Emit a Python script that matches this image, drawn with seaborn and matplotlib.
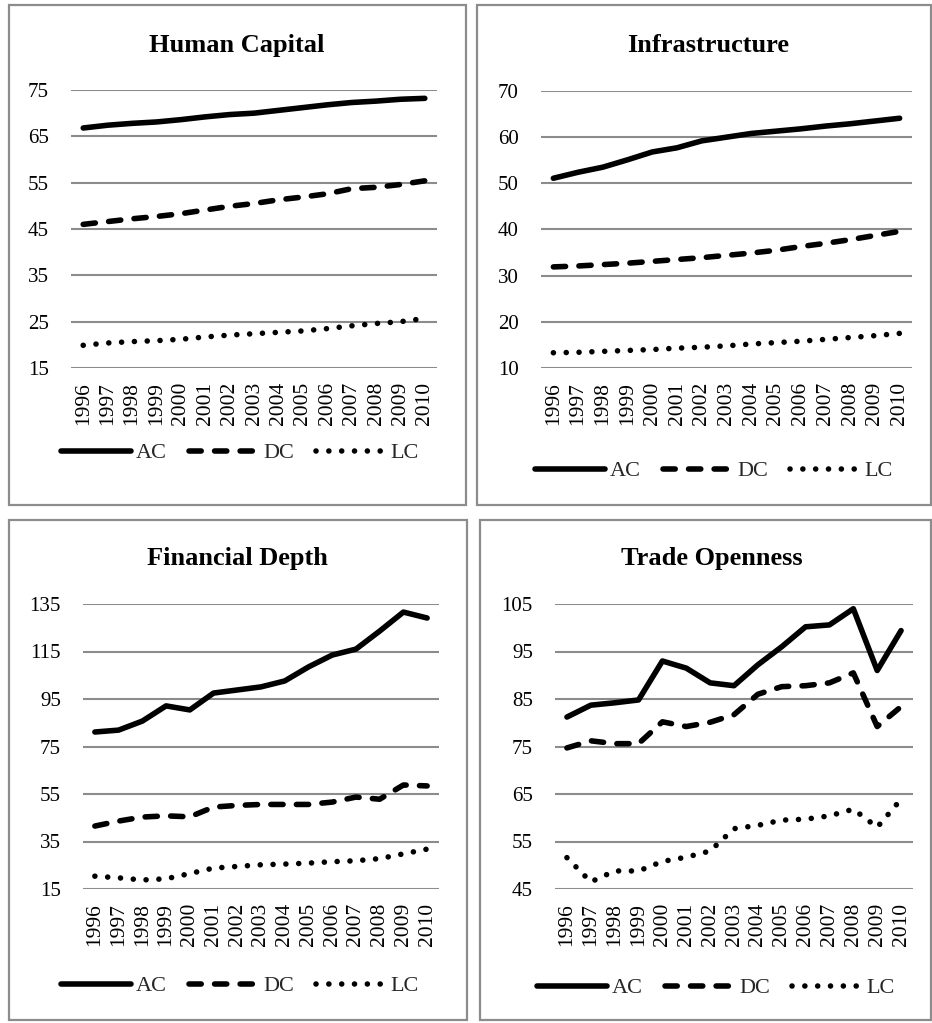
import seaborn as sns
import matplotlib
matplotlib.use("Agg")
import matplotlib.pyplot as plt
from matplotlib.patches import Rectangle
import pandas as pd

# values
years = list(range(1996, 2011))
groups = ["AC", "DC", "LC"]

hc_ac = [66.8, 67.4, 67.8, 68.1, 68.6, 69.2, 69.7, 70.0, 70.6, 71.2, 71.8, 72.3, 72.6, 73.0, 73.2]
hc_dc = [46.0, 46.6, 47.2, 47.7, 48.3, 49.1, 49.9, 50.5, 51.3, 51.9, 52.6, 53.7, 54.0, 54.6, 55.4]
hc_lc = [19.9, 20.4, 20.7, 20.9, 21.2, 21.7, 22.1, 22.4, 22.7, 23.0, 23.5, 24.1, 24.6, 25.0, 25.7]

inf_ac = [51.1, 52.4, 53.5, 55.1, 56.8, 57.7, 59.2, 60.0, 60.8, 61.3, 61.8, 62.4, 62.9, 63.5, 64.1]
inf_dc = [31.9, 32.1, 32.4, 32.7, 33.1, 33.5, 33.9, 34.4, 34.9, 35.5, 36.3, 37.0, 37.8, 38.7, 39.6]
inf_lc = [13.3, 13.4, 13.6, 13.8, 14.0, 14.3, 14.5, 14.8, 15.2, 15.5, 15.8, 16.2, 16.6, 17.0, 17.5]

fd_ac = [81.1, 81.9, 85.7, 92.1, 90.4, 97.5, 98.8, 100.1, 102.6, 108.5, 113.5, 116.0, 123.6, 131.6, 129.1]
fd_dc = [41.5, 43.6, 45.3, 45.8, 45.4, 49.5, 50.2, 50.6, 50.6, 50.6, 51.6, 53.7, 52.8, 58.8, 58.4]
fd_lc = [20.4, 19.7, 18.8, 19.3, 21.5, 23.8, 24.5, 25.2, 25.5, 25.9, 26.5, 26.9, 27.8, 29.8, 31.8]

to_ac = [81.2, 83.7, 84.2, 84.8, 93.0, 91.5, 88.4, 87.8, 92.2, 96.0, 100.2, 100.6, 104.0, 91.0, 99.4]
to_dc = [74.7, 76.2, 75.6, 75.6, 80.2, 79.2, 80.1, 81.7, 86.0, 87.6, 87.8, 88.4, 90.5, 79.2, 83.4]
to_lc = [51.6, 46.5, 48.8, 48.8, 50.8, 51.7, 53.0, 57.7, 58.4, 59.5, 59.7, 60.4, 61.8, 58.0, 63.9]

panels = [
    ("Human Capital", [hc_ac, hc_dc, hc_lc], [15, 25, 35, 45, 55, 65, 75]),
    ("Infrastructure", [inf_ac, inf_dc, inf_lc], [10, 20, 30, 40, 50, 60, 70]),
    ("Financial Depth", [fd_ac, fd_dc, fd_lc], [15, 35, 55, 75, 95, 115, 135]),
    ("Trade Openness", [to_ac, to_dc, to_lc], [45, 55, 65, 75, 85, 95, 105]),
]

W, H = 932, 1023

# layout in pixels: box (x0, y0, x1, y1), axes (left, top, right, bottom), title baseline, legend center
layout = [
    ((9, 5, 466, 505), (71, 90, 437, 368), (237, 52), (240, 453)),
    ((477, 5, 931, 505), (541, 91, 912, 368), (708, 52), (714, 471)),
    ((9, 520, 467, 1020), (83, 604, 439, 889), (237, 565), (240, 986)),
    ((480, 520, 931, 1020), (555, 604, 913, 889), (712, 565), (716, 988)),
]

sns.set_theme(style="white")
plt.rcParams["font.family"] = ["Liberation Serif", "DejaVu Serif"]
plt.rcParams["lines.dash_capstyle"] = "round"
plt.rcParams["lines.solid_capstyle"] = "round"

fig = plt.figure(figsize=(W / 100, H / 100), dpi=100)
fig.patch.set_facecolor("white")

line_dashes = {"AC": "", "DC": (2.2, 2.4), "LC": (0.01, 2.3)}

for (title, series, yticks), (box, axpos, tpos, lpos) in zip(panels, layout):
    # panel frame
    bx0, by0, bx1, by1 = box
    fig.add_artist(Rectangle((bx0 / W, 1 - by1 / H), (bx1 - bx0) / W, (by1 - by0) / H,
                             transform=fig.transFigure, fill=False,
                             edgecolor="#8c8c8c", linewidth=1.6))

    left, top, right, bottom = axpos
    ax = fig.add_axes([left / W, 1 - bottom / H, (right - left) / W, (bottom - top) / H])

    df = pd.DataFrame({
        "year": years * 3,
        "value": series[0] + series[1] + series[2],
        "group": ["AC"] * 15 + ["DC"] * 15 + ["LC"] * 15,
    })
    sns.lineplot(data=df, x="year", y="value", style="group", style_order=groups,
                 dashes=line_dashes, color="black", linewidth=4, errorbar=None,
                 legend=False, ax=ax)

    ax.set_xlim(1995.5, 2010.5)
    ax.set_ylim(yticks[0], yticks[-1])
    ax.set_yticks(yticks)
    ax.set_xticks(years)
    ax.set_xticklabels([str(y) for y in years], rotation=90)
    ax.set_xlabel("")
    ax.set_ylabel("")
    ax.tick_params(axis="y", length=0, pad=16, labelsize=15, labelcolor="black")
    ax.tick_params(axis="x", length=0, pad=10, labelsize=15.5, labelcolor="black")
    ax.grid(axis="y", color="#8c8c8c", linewidth=1.5)
    ax.grid(axis="x", visible=False)
    for s in ax.spines.values():
        s.set_visible(False)
    ax.set_facecolor("none")

    fig.text(tpos[0] / W, 1 - tpos[1] / H, title, ha="center", va="baseline",
             fontsize=19, fontweight="bold", color="black")

    ax.legend(handles=ax.lines[:3], labels=groups, loc="center",
              bbox_to_anchor=(lpos[0] / W, 1 - lpos[1] / H), bbox_transform=fig.transFigure,
              ncol=3, frameon=False, fontsize=16, handlelength=3.15, handletextpad=0.2,
              columnspacing=1.0, borderpad=0, borderaxespad=0)

fig.savefig("out.png", dpi=100, facecolor="white")
